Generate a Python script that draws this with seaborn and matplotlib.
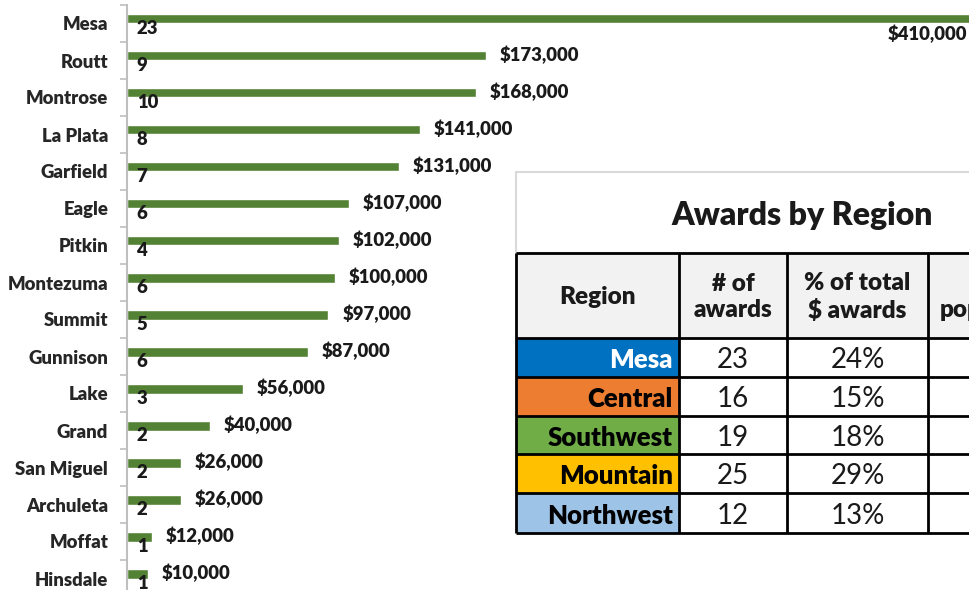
import numpy as np
import pandas as pd
import matplotlib
matplotlib.use("Agg")
import matplotlib.pyplot as plt
import seaborn as sns
from matplotlib.patches import Rectangle

# ---------------- data ----------------
counties = ["Mesa", "Routt", "Montrose", "La Plata", "Garfield", "Eagle", "Pitkin",
            "Montezuma", "Summit", "Gunnison", "Lake", "Grand", "San Miguel",
            "Archuleta", "Moffat", "Hinsdale"]
amounts = [410000, 173000, 168000, 141000, 131000, 107000, 102000, 100000,
           97000, 87000, 56000, 40000, 26000, 26000, 12000, 10000]
counts = [23, 9, 10, 8, 7, 6, 4, 6, 5, 6, 3, 2, 2, 2, 1, 1]

table_title = "Awards by Region"
table_headers = ["Region", "# of\nawards", "% of total\n$ awards", "% of\npopulation"]
regions = ["Mesa", "Central", "Southwest", "Mountain", "Northwest"]
region_awards = [23, 16, 19, 25, 12]
region_pct = ["24%", "15%", "18%", "29%", "13%"]
region_colors = ["#0070C0", "#ED7D31", "#70AD47", "#FFC000", "#9DC3E6"]
region_text_colors = ["white", "black", "black", "black", "black"]

BAR_GREEN = "#548235"
BOLD = "heavy"

# ---------------- setup ----------------
sns.set_theme(style="white")
plt.rcParams["font.family"] = ["Lato", "DejaVu Sans"]

W, H = 970, 590
fig = plt.figure(figsize=(W / 100, H / 100), dpi=100)


def px(x0, y0, x1, y1):
    return [x0 / W, 1 - y1 / H, (x1 - x0) / W, (y1 - y0) / H]


ax = fig.add_axes(px(127, 5, 978, 597))

df = pd.DataFrame({
    "county": counties * 2,
    "value": amounts + counts,
    "series": ["amount"] * len(counties) + ["count"] * len(counties),
})
sns.barplot(data=df, y="county", x="value", hue="series", orient="h",
            dodge=True, width=0.54, palette=[BAR_GREEN, BAR_GREEN],
            saturation=1, errorbar=None, legend=False, ax=ax)

ax.set_xlim(0, max(amounts))
ax.set_ylim(len(counties) - 0.5, -0.5)
ax.set_xlabel("")
ax.set_ylabel("")
ax.xaxis.set_visible(False)
for s in ["top", "right", "bottom"]:
    ax.spines[s].set_visible(False)
ax.spines["left"].set_color("#BFBFBF")
ax.spines["left"].set_linewidth(1.5)

ax.set_yticks(range(len(counties)))
ax.set_yticklabels(counties, fontsize=13.3, fontweight=BOLD, color="#262626")
ax.set_yticks(np.arange(-0.5, len(counties), 1), minor=True)
ax.tick_params(axis="y", which="major", length=0, pad=13.5)
ax.tick_params(axis="y", which="minor", length=5, width=1.2, color="#BFBFBF",
               direction="out", left=True)

lab_kw = dict(fontsize=13.3, fontweight=BOLD, color="#1a1a1a",
              textcoords="offset points", annotation_clip=False)
for i, (p, val) in enumerate(zip(ax.containers[0], amounts)):
    y = p.get_y() + p.get_height() / 2
    x = p.get_width()
    txt = f"${val:,.0f}"
    if i == 0:
        ax.annotate(txt, xy=(x, y), xytext=(-8, -11), ha="right", va="center", **lab_kw)
    else:
        ax.annotate(txt, xy=(x, y), xytext=(10, 0.8), ha="left", va="center", **lab_kw)

for p, c in zip(ax.containers[1], counts):
    y = p.get_y() + p.get_height() / 2
    ax.annotate(str(c), xy=(p.get_width(), y), xytext=(7, 0), ha="left",
                va="center", **lab_kw)

# ---------------- table overlay ----------------
ax2 = fig.add_axes([0, 0, 1, 1])
ax2.set_xlim(0, W)
ax2.set_ylim(H, 0)
ax2.axis("off")

xs = [516, 679, 787, 928, 1070]
ys = [253, 338, 377, 416, 454, 493, 533]

ax2.add_patch(Rectangle((516, 172), 520, 81, facecolor="white",
                        edgecolor="#D9D9D9", lw=1.5, clip_on=False))
ax2.text(802, 215, table_title, ha="center", va="center", fontsize=23,
         fontweight=BOLD, color="#1a1a1a")

# header
ax2.add_patch(Rectangle((xs[0], ys[0]), xs[-1] - xs[0], ys[1] - ys[0],
                        facecolor="#F2F2F2", edgecolor="none", clip_on=False))
for j, h in enumerate(table_headers):
    ax2.text((xs[j] + xs[j + 1]) / 2, (ys[0] + ys[1]) / 2 + 1.5, h, ha="center",
             va="center", fontsize=17.5, fontweight=BOLD, color="#1a1a1a",
             linespacing=1.25, clip_on=False)

for r, name in enumerate(regions):
    y0, y1 = ys[r + 1], ys[r + 2]
    yc = (y0 + y1) / 2 + 2.5
    ax2.add_patch(Rectangle((xs[0], y0), xs[1] - xs[0], y1 - y0,
                            facecolor=region_colors[r], edgecolor="none"))
    ax2.add_patch(Rectangle((xs[1], y0), xs[-1] - xs[1], y1 - y0,
                            facecolor="white", edgecolor="none", clip_on=False))
    ax2.text(xs[1] - 6, yc, name, ha="right", va="center", fontsize=18.5,
             fontweight=BOLD, color=region_text_colors[r])
    ax2.text((xs[1] + xs[2]) / 2, yc, str(region_awards[r]), ha="center",
             va="center", fontsize=20, color="#1a1a1a")
    ax2.text((xs[2] + xs[3]) / 2, yc, region_pct[r], ha="center",
             va="center", fontsize=20, color="#1a1a1a")

# grid lines
for y in ys:
    ax2.plot([xs[0], xs[-1]], [y, y], color="black", lw=2, solid_capstyle="butt")
for x in xs:
    ax2.plot([x, x], [ys[0], ys[-1]], color="black", lw=2, solid_capstyle="butt")

fig.savefig("out.png", dpi=100)
